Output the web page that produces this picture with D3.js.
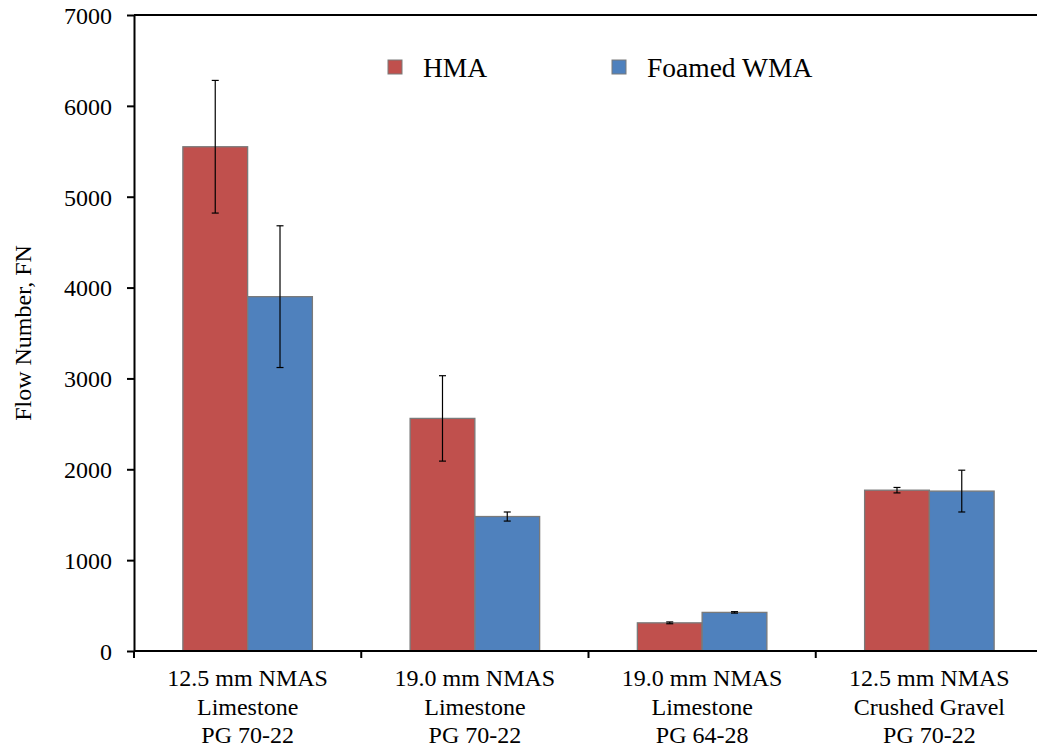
<!DOCTYPE html>
<html>
<head>
<meta charset="utf-8">
<script src="https://cdn.jsdelivr.net/npm/d3@7"></script>
<style>
  body { margin: 0; background: #fff; }
  svg text { font-family: "Liberation Serif", "Times New Roman", serif; fill: #000; }
</style>
</head>
<body>
<div id="chart"></div>
<script>
// data
const categories = [
  ['12.5 mm NMAS', 'Limestone', 'PG 70-22'],
  ['19.0 mm NMAS', 'Limestone', 'PG 70-22'],
  ['19.0 mm NMAS', 'Limestone', 'PG 64-28'],
  ['12.5 mm NMAS', 'Crushed Gravel', 'PG 70-22']
];
const seriesNames = ['HMA', 'Foamed WMA'];
const hmaValues = [5550, 2560, 310, 1770];
const hmaErrors = [730, 470, 10, 30];
const wmaValues = [3900, 1480, 425, 1760];
const wmaErrors = [780, 50, 8, 230];
const yTicks = [0, 1000, 2000, 3000, 4000, 5000, 6000, 7000];

const colors = ['#C0504D', '#4F81BD'];

const width = 1037, height = 749;
const margin = { top: 15, right: -6, bottom: 98, left: 134 };

const svg = d3.select('#chart').append('svg')
  .attr('width', width)
  .attr('height', height);

const x0 = d3.scaleBand()
  .domain(d3.range(categories.length))
  .range([margin.left, width - margin.right])
  .paddingInner(0.43)
  .paddingOuter(0.215);

const x1 = d3.scaleBand()
  .domain(seriesNames)
  .range([0, x0.bandwidth()]);

const y = d3.scaleLinear()
  .domain([0, 7000])
  .range([height - margin.bottom, margin.top]);

const rows = categories.map((c, i) => ({
  i,
  values: [
    { s: seriesNames[0], v: hmaValues[i], e: hmaErrors[i] },
    { s: seriesNames[1], v: wmaValues[i], e: wmaErrors[i] }
  ]
}));

// bars
const groups = svg.append('g').selectAll('g')
  .data(rows)
  .join('g')
    .attr('transform', d => `translate(${x0(d.i)},0)`);

groups.selectAll('rect')
  .data(d => d.values)
  .join('rect')
    .attr('x', d => x1(d.s))
    .attr('y', d => y(d.v))
    .attr('width', x1.bandwidth())
    .attr('height', d => y(0) - y(d.v))
    .attr('fill', (d, j) => colors[j])
    .attr('stroke', '#7a7a7a')
    .attr('stroke-width', 1.3);

// error bars
const err = groups.selectAll('g.err')
  .data(d => d.values)
  .join('g')
    .attr('class', 'err')
    .attr('stroke', '#000')
    .attr('stroke-width', 1.2);

err.append('line')
  .attr('x1', d => x1(d.s) + x1.bandwidth() / 2)
  .attr('x2', d => x1(d.s) + x1.bandwidth() / 2)
  .attr('y1', d => y(d.v + d.e))
  .attr('y2', d => y(d.v - d.e));

[1, -1].forEach(sign => {
  err.append('line')
    .attr('x1', d => x1(d.s) + x1.bandwidth() / 2 - 3.5)
    .attr('x2', d => x1(d.s) + x1.bandwidth() / 2 + 3.5)
    .attr('y1', d => y(d.v + sign * d.e))
    .attr('y2', d => y(d.v + sign * d.e));
});

// top frame line
svg.append('line')
  .attr('x1', margin.left).attr('x2', width)
  .attr('y1', margin.top).attr('y2', margin.top)
  .attr('stroke', '#000').attr('stroke-width', 2);

// y axis
const yAxis = svg.append('g')
  .attr('transform', `translate(${margin.left},0)`)
  .call(d3.axisLeft(y).tickValues(yTicks).tickFormat(d3.format('d'))
    .tickSize(7).tickSizeOuter(0).tickPadding(15));
yAxis.select('.domain').attr('stroke-width', 2);
yAxis.selectAll('.tick line').attr('stroke-width', 2);
yAxis.selectAll('.tick text')
  .style('font-family', '"Liberation Serif", serif')
  .style('font-size', '24px')
  .attr('dy', '0.35em');

// x axis
const xAxisG = svg.append('g')
  .attr('transform', `translate(0,${y(0)})`);
xAxisG.append('line')
  .attr('x1', margin.left).attr('x2', width)
  .attr('stroke', '#000').attr('stroke-width', 2);

const step = x0.step();
const boundaries = d3.range(categories.length + 1)
  .map(i => x0(0) - x0.paddingOuter() * step + i * step);
xAxisG.selectAll('line.tick')
  .data(boundaries)
  .join('line')
    .attr('class', 'tick')
    .attr('x1', d => d).attr('x2', d => d)
    .attr('y1', 0).attr('y2', 7)
    .attr('stroke', '#000').attr('stroke-width', 2);

const xLabels = svg.append('g').selectAll('text')
  .data(categories)
  .join('text')
    .attr('x', (d, i) => x0(i) + x0.bandwidth() / 2)
    .attr('y', y(0) + 35)
    .attr('text-anchor', 'middle')
    .style('font-size', '24px');
xLabels.selectAll('tspan')
  .data(d => d)
  .join('tspan')
    .attr('x', function() { return this.parentNode.getAttribute('x'); })
    .attr('dy', (d, k) => k === 0 ? 0 : 28.5)
    .text(d => d);

// y axis title
svg.append('text')
  .attr('transform', `translate(31,${(y(0) + y(7000)) / 2}) rotate(-90)`)
  .attr('text-anchor', 'middle')
  .style('font-size', '24px')
  .text('Flow Number, FN');

// legend
const legendX = [388, 612];
const legend = svg.append('g').selectAll('g')
  .data(seriesNames)
  .join('g')
    .attr('transform', (d, i) => `translate(${legendX[i]},60)`);
legend.append('rect')
  .attr('width', 14).attr('height', 14)
  .attr('fill', (d, i) => colors[i])
  .attr('stroke', '#7a7a7a')
  .attr('stroke-width', 1);
legend.append('text')
  .attr('x', 35)
  .attr('y', 17)
  .style('font-size', '27.5px')
  .text(d => d);
</script>
</body>
</html>
